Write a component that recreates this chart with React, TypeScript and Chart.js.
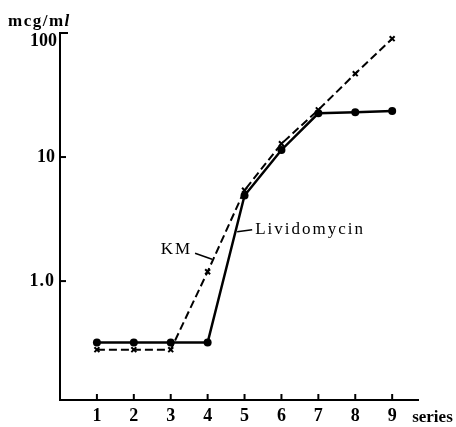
import React, { useEffect, useRef } from "react";
import { Chart, registerables } from "chart.js";

Chart.register(...registerables);

const categories = [1, 2, 3, 4, 5, 6, 7, 8, 9];
const lividomycin = [0.32, 0.32, 0.32, 0.32, 4.9, 11.4, 22.5, 23, 23.5];
const km = [0.28, 0.28, 0.28, 1.19, 5.4, 12.8, 24, 47, 90];
const yTickValues = [1, 10, 100];
const yTickLabels = ["1.0", "10", "100"];

const FONT = "'Liberation Serif', 'DejaVu Serif', serif";

const decorPlugin = {
  id: "decor",
  afterDraw(chart: any) {
    const ctx = chart.ctx;
    const xs = chart.scales.x;
    const ys = chart.scales.y;
    const area = chart.chartArea;
    ctx.save();
    ctx.strokeStyle = "#000";
    ctx.fillStyle = "#000";
    ctx.lineWidth = 2;
    // inward x ticks
    categories.forEach((c) => {
      const px = xs.getPixelForValue(c);
      ctx.beginPath();
      ctx.moveTo(px, area.bottom);
      ctx.lineTo(px, area.bottom - 6);
      ctx.stroke();
    });
    // inward y ticks + labels
    ctx.font = `bold 18px ${FONT}`;
    ctx.textAlign = "right";
    ctx.textBaseline = "middle";
    yTickValues.forEach((v, i) => {
      const py = ys.getPixelForValue(v);
      ctx.beginPath();
      ctx.moveTo(area.left, py);
      ctx.lineTo(area.left + (i === 2 ? 8 : 6), py);
      ctx.stroke();
      ctx.letterSpacing = i === 0 ? "1px" : "0px";
      ctx.fillText(yTickLabels[i], area.left - (i === 2 ? 3 : 5), py + (i === 2 ? 8 : 0));
    });
    // y unit
    ctx.textBaseline = "alphabetic";
    ctx.textAlign = "left";
    ctx.letterSpacing = "1.5px";
    ctx.font = `bold 17px ${FONT}`;
    const t1 = "mcg/m";
    ctx.fillText(t1, 8, 26);
    const w1 = ctx.measureText(t1).width;
    ctx.font = `italic bold 17px ${FONT}`;
    ctx.fillText("l", 8 + w1, 26);
    // series label
    ctx.letterSpacing = "0px";
    ctx.font = `bold 17px ${FONT}`;
    ctx.fillText("series", xs.getPixelForValue(9) + 20, area.bottom + 22);
    // annotations
    ctx.lineWidth = 1.5;
    ctx.textBaseline = "middle";
    ctx.letterSpacing = "2px";
    ctx.font = `17px ${FONT}`;
    // KM
    const kx = xs.getPixelForValue(4.12);
    const ky = ys.getPixelForValue(1.5);
    ctx.beginPath();
    ctx.moveTo(kx, ky);
    ctx.lineTo(kx - 17, ky - 6);
    ctx.stroke();
    ctx.textAlign = "right";
    ctx.fillText("KM", kx - 20, ky - 10);
    // Lividomycin
    const lx = xs.getPixelForValue(4.8);
    const ly = ys.getPixelForValue(2.5);
    ctx.beginPath();
    ctx.moveTo(lx, ly);
    ctx.lineTo(lx + 15, ly - 2);
    ctx.stroke();
    ctx.textAlign = "left";
    ctx.fillText("Lividomycin", lx + 18, ly - 2);
    ctx.restore();
  },
};

export default function App() {
  const ref = useRef<HTMLCanvasElement>(null);
  useEffect(() => {
    if (!ref.current) return;
    const chart = new Chart(ref.current, {
      type: "line",
      data: {
        datasets: [
          {
            label: "Lividomycin",
            data: categories.map((c, i) => ({ x: c, y: lividomycin[i] })),
            borderColor: "#000",
            backgroundColor: "#000",
            borderWidth: 2.5,
            pointStyle: "circle",
            pointRadius: 4,
            pointBorderWidth: 0,
            tension: 0,
          },
          {
            label: "KM",
            data: categories.map((c, i) => ({ x: c, y: km[i] })),
            borderColor: "#000",
            backgroundColor: "#000",
            borderWidth: 2,
            borderDash: [8, 4],
            pointStyle: "crossRot",
            pointRadius: 3.5,
            pointBorderWidth: 2,
            tension: 0,
          },
        ],
      },
      plugins: [decorPlugin],
      options: {
        animation: false,
        responsive: false,
        maintainAspectRatio: false,
        layout: { padding: { left: 0, top: 33, right: 38, bottom: 0 } },
        plugins: { legend: { display: false }, tooltip: { enabled: false } },
        scales: {
          x: {
            type: "linear",
            min: 0,
            max: 9.7,
            afterBuildTicks: (s: any) => {
              s.ticks = categories.map((v) => ({ value: v }));
            },
            afterFit: (s: any) => {
              s.height = 27;
            },
            grid: { display: false, drawTicks: false },
            border: { display: true, color: "#000", width: 2 },
            ticks: {
              color: "#000",
              font: { family: FONT, size: 18, weight: "bold" },
              padding: 6,
              maxRotation: 0,
              autoSkip: false,
              callback: (v: any) => String(v),
            },
          },
          y: {
            type: "logarithmic",
            min: 0.11,
            max: 100,
            afterBuildTicks: (s: any) => {
              s.ticks = yTickValues.map((v) => ({ value: v }));
            },
            afterFit: (s: any) => {
              s.width = 60;
            },
            grid: { display: false, drawTicks: false },
            border: { display: true, color: "#000", width: 2 },
            ticks: { display: false },
          },
        },
      },
    });
    return () => chart.destroy();
  }, []);
  return (
    <div style={{ position: "absolute", left: 0, top: 0, width: 456, height: 427 }}>
      <canvas ref={ref} width={456} height={427} style={{ width: 456, height: 427 }} />
    </div>
  );
}
